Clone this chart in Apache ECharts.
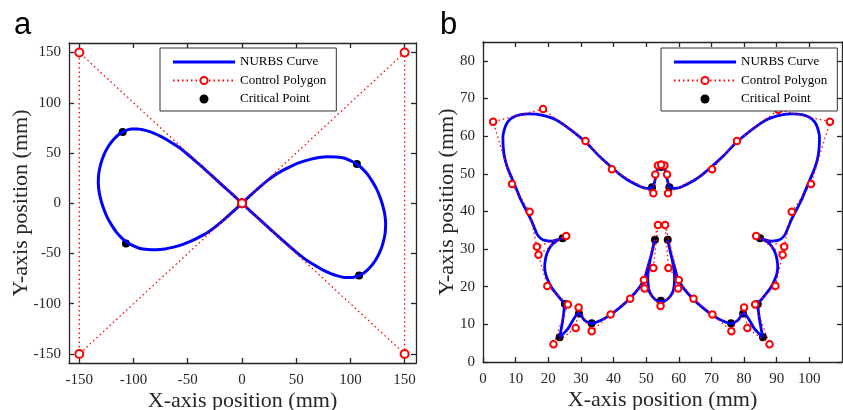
<!DOCTYPE html>
<html><head><meta charset="utf-8">
<script src="https://cdn.jsdelivr.net/npm/echarts@6/dist/echarts.min.js"></script>
<style>html,body{margin:0;padding:0;background:#fff}#c{width:843px;height:410px}</style>
</head><body><div id="c"></div><script>
// ---------- Panel a (figure-eight) ----------
const aCurveX = [0,8,16,24,31,39,47,55,63,71,79,87,94,100,106,111,116,120,124,127,129.5,131.5,132.5,132,130,127,123,118,113,108,102,96,89,82,74,66,58,51,45,38,31,24,16,8,0,
  -8,-16,-24,-31,-38,-45,-51,-58,-66,-74,-82,-89,-96,-102,-108,-113,-118,-123,-127,-130,-132,-132.5,-131.5,-129.5,-127,-124,-120,-116,-111,-106,-100,-94,-87,-79,-71,-63,-55,-47,-39,-31,-24,-16,-8,0];
const aCurveY = [0,8,15.8,23,28.5,33.5,37.8,41.2,43.7,45.5,46.3,46,45,42.5,39,34.5,28.5,22,14.5,7,-1,-10,-20,-30,-40,-49,-57,-64,-69,-72,-73.8,-74,-72.5,-70,-66,-61,-55.5,-49.5,-44,-37.5,-30.6,-23.7,-15.9,-8,0,
  8,15.9,23.7,30.6,37.5,44,49.5,55.5,61,66,70,72.5,74,73.8,72,69,64,57,49,40,30,20,10,1,-7,-14.5,-22,-28.5,-34.5,-39,-42.5,-45,-46,-46.3,-45.5,-43.7,-41.2,-37.8,-33.5,-28.5,-23,-15.8,-8,0];
const aCtrlX = [0,150,150,0,-150,-150,0];
const aCtrlY = [0,150,-150,0,150,-150,0];
const aCritX = [-110,-107,106,108];
const aCritY = [71,-40,39,-72];
const aTicks = [-150,-100,-50,0,50,100,150];

// ---------- Panel b (butterfly) ----------
const bLeftX = [54.6,53.8,53.2,52.8,52.3,51.8,50.5,48.5,45.0,42.0,39.8,35.5,31.6,27.0,22.5,18.0,14.3,11.5,9.2,7.6,6.7,6.1,6.2,6.6,7.5,8.7,10.2,11.7,13.3,14.8,15.8,16.6,17.7,18.9,20.9,23.0,24.3,22.8,21.4,20.2,19.4,19.0,18.9,19.2,19.9,21.0,22.5,23.9,25.0,24.5,23.5,26.0,29.3,31.1,33.2,35.5,38.8,42.0,44.9,48.0,49.6,50.5,51.6,52.6,51.9,51.2,50.7,50.5,50.6,50.9,51.6,52.5,53.5,54.5];
const bLeftY = [52.0,51.7,50.4,48.6,47.0,46.4,46.1,46.5,48.0,49.8,51.4,54.8,58.3,61.6,64.3,65.6,65.9,65.7,65.0,63.8,62.2,59.7,57.0,54.4,51.6,49.1,46.0,42.9,40.2,37.6,35.5,33.9,32.8,32.3,32.1,32.5,32.9,32.3,31.4,30.0,28.3,26.5,25.2,23.3,21.7,19.8,18.1,16.6,15.5,11.5,6.6,8.8,13.0,11.1,10.2,10.8,12.4,14.5,16.8,19.9,22.5,25.2,28.5,32.5,29.8,27.0,24.5,22.5,20.5,19.0,17.7,16.8,16.2,16.0];
const bRightX = [55.7,56.7,57.6,58.3,58.6,58.7,58.5,58.0,57.3,56.6,57.6,58.7,59.6,61.2,64.3,67.2,70.4,73.7,76.0,78.1,79.9,83.2,85.7,84.7,84.2,85.3,86.7,88.2,89.3,90.0,90.3,90.2,89.8,89.0,87.8,86.4,84.9,86.2,88.3,90.3,91.5,92.6,93.4,94.4,95.9,97.5,99.0,100.5,101.7,102.6,103.0,103.1,102.5,101.6,100.0,97.7,94.9,91.2,86.7,82.2,77.6,73.7,69.4,67.2,64.2,60.7,58.7,57.4,56.9,56.4,56.0,55.4,54.6];
const bRightY = [16.2,16.8,17.7,19.0,20.5,22.5,24.5,27.0,29.8,32.5,28.5,25.2,22.5,19.9,16.8,14.5,12.4,10.8,10.2,11.1,13.0,8.8,6.6,11.5,15.5,16.6,18.1,19.8,21.7,23.3,25.2,26.5,28.3,30.0,31.4,32.3,32.9,32.5,32.1,32.3,32.8,33.9,35.5,37.6,40.2,42.9,46.0,49.1,51.6,54.4,57.0,59.7,62.2,63.8,65.0,65.7,65.9,65.6,64.3,61.6,58.3,54.8,51.4,49.8,48.0,46.5,46.1,46.4,47.0,48.6,50.4,51.7,52.0];
const bCtrlX = [54.6,53.6,52.8,52.2,39.5,31.4,18.4,3.1,8.9,14.3,16.5,25.5,17.0,19.7,26.0,21.6,28.4,29.3,33.3,39.1,45.1,52.2,53.6,49.3,49.5,54.4,59.8,60.0,55.8,56.8,64.5,70.3,76.1,80.0,81.0,87.8,83.4,89.6,91.8,83.7,92.3,94.6,100.5,106.3,90.5,77.8,70.2,56.7,56.4,55.6,54.6];
const bCtrlY = [52.4,52.2,49.8,44.8,51.2,58.7,67.2,63.8,47.3,39.9,30.6,33.5,28.5,20.2,15.3,4.7,9.0,14.5,8.2,12.6,16.8,25.0,36.4,21.8,19.5,14.9,19.5,21.8,36.4,25.0,16.8,12.6,8.2,14.5,9.0,4.7,15.3,20.2,28.5,33.5,30.6,39.9,47.3,63.8,67.0,58.7,51.2,44.8,49.8,52.2,52.4];
const bCritX = [51.8,54.6,57.1,24.4,25.1,23.5,29.4,33.3,52.7,54.5,56.6,76.0,79.7,85.8,84.2,84.9];
const bCritY = [46.4,51.8,46.4,32.9,15.4,6.6,12.9,10.3,32.5,16.3,32.5,10.3,12.9,6.6,15.4,32.9];
const bXTicks = [0,10,20,30,40,50,60,70,80,90,100];
const bYTicks = [0,10,20,30,40,50,60,70,80];

const legendNames = ['NURBS Curve','Control Polygon','Critical Point'];
const xTitle = 'X-axis position (mm)';
const yTitle = 'Y-axis position (mm)';

// ---------- build ----------
const zip = (xs, ys) => xs.map((x, i) => [x, ys[i]]);
const SERIF = '"Liberation Serif","Times New Roman",serif';
const AX = '#262626';

function axis(gridIndex, min, max, ticks, position, main, name, nameGap) {
  return {
    type: 'value', gridIndex, min, max, position,
    axisLine: { show: true, onZero: false, lineStyle: { color: AX, width: 1.3 } },
    axisTick: { show: true, inside: true, length: 5, customValues: ticks, lineStyle: { color: AX, width: 1.3 } },
    axisLabel: { show: main, customValues: ticks, margin: (position === 'bottom') ? 10 : 8, fontFamily: SERIF, fontSize: 15, color: AX },
    splitLine: { show: false },
    name: main ? name : '', nameLocation: 'middle', nameGap: nameGap, nameMoveOverlap: false,
    nameTextStyle: { fontFamily: SERIF, fontSize: 22, color: AX }
  };
}

function legend(left) {
  return {
    left: left, top: 48, orient: 'vertical', selectedMode: false,
    itemWidth: 62, itemHeight: 9, itemGap: 4.5, padding: [7, 10, 5, 12],
    borderColor: '#333', borderWidth: 1, backgroundColor: '#fff',
    textStyle: { fontFamily: SERIF, fontSize: 13, color: '#000', lineHeight: 14 },
    data: [
      { name: legendNames[0], icon: 'path://M0,0H62V3H0Z', itemStyle: { color: '#0000ff' } },
      { name: legendNames[1] },
      { name: legendNames[2] }
    ]
  };
}

function seriesSet(xi, yi, curve, ctrl, crit, cw, cs, ps) {
  return [
    { type: 'line', name: legendNames[0], xAxisIndex: xi, yAxisIndex: yi, data: curve,
      symbol: 'none', smooth: 0.25, lineStyle: { color: '#0000ff', width: cw }, itemStyle: { color: '#0000ff' },
      emphasis: { disabled: true } },
    { type: 'line', name: legendNames[1], xAxisIndex: xi, yAxisIndex: yi, data: ctrl,
      symbol: 'emptyCircle', symbolSize: ps, showSymbol: true,
      lineStyle: { color: '#ff0000', width: 1.3, type: [1.5, 3] },
      itemStyle: { color: '#ff0000', borderWidth: 1.6 }, emphasis: { disabled: true } },
    { type: 'scatter', name: legendNames[2], xAxisIndex: xi, yAxisIndex: yi, data: crit,
      symbolSize: cs, itemStyle: { color: '#000', opacity: 1 }, emphasis: { disabled: true } }
  ];
}

const chart = echarts.init(document.getElementById('c'), null, { renderer: 'canvas' });
chart.setOption({
  animation: false,
  backgroundColor: '#fff',
  graphic: [
    { type: 'text', left: 14, top: 10, style: { text: 'a', font: '31px "Liberation Sans", Arial, sans-serif', fill: '#000' } },
    { type: 'text', left: 440, top: 10, style: { text: 'b', font: '31px "Liberation Sans", Arial, sans-serif', fill: '#000' } }
  ],
  grid: [
    { left: 69, top: 43, width: 347, height: 320, containLabel: false, outerBoundsMode: 'none' },
    { left: 483, top: 42, width: 359, height: 320, containLabel: false, outerBoundsMode: 'none' }
  ],
  xAxis: [
    axis(0, -159.5, 160.5, aTicks, 'bottom', true, xTitle, 27),
    axis(0, -159.5, 160.5, aTicks, 'top', false, '', 0),
    axis(1, 0, 110, bXTicks, 'bottom', true, xTitle, 27),
    axis(1, 0, 110, bXTicks, 'top', false, '', 0)
  ],
  yAxis: [
    axis(0, -159, 159.5, aTicks, 'left', true, yTitle, 37),
    axis(0, -159, 159.5, aTicks, 'right', false, '', 0),
    axis(1, 0, 85, bYTicks, 'left', true, yTitle, 25),
    axis(1, 0, 85, bYTicks, 'right', false, '', 0)
  ],
  legend: [legend(160), legend(661)],
  series: [].concat(
    seriesSet(0, 0, zip(aCurveX, aCurveY), zip(aCtrlX, aCtrlY), zip(aCritX, aCritY), 3, 8, 8),
    seriesSet(2, 2, zip(bLeftX.concat(bRightX), bLeftY.concat(bRightY)), zip(bCtrlX, bCtrlY), zip(bCritX, bCritY), 2.8, 8, 6.5)
  )
});
</script></body></html>
